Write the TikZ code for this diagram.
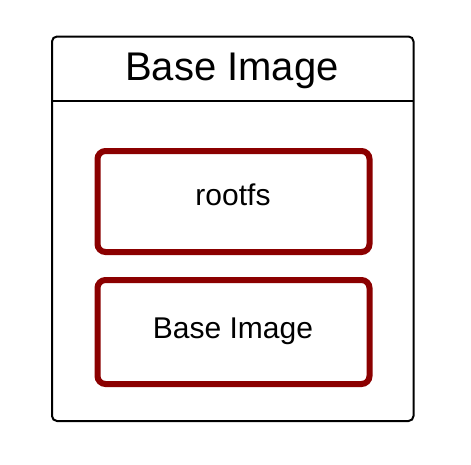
\documentclass[tikz,border=0pt]{standalone}
\usepackage{fontspec}
\setmainfont{Liberation Sans}
\definecolor{boxred}{RGB}{139,0,0}
\begin{document}
\begin{tikzpicture}[x=1pt,y=-1pt,
  outerbox/.style={draw=black,line width=2pt,rounded corners=5pt},
  redbox/.style={draw=boxred,line width=6pt,rounded corners=8pt},
  bigtext/.style={font=\fontsize{40}{48}\selectfont,inner sep=0pt,anchor=base},
  smalltext/.style={font=\fontsize{30}{36}\selectfont,inner sep=0pt,anchor=base}]
\useasboundingbox (0,0) rectangle (471,464);
\draw[outerbox] (52,36.5) rectangle (413.5,421);
\draw[line width=2pt] (52,101) -- (413.5,101);
\node[bigtext] (title) at (232,80.5) {Base Image};
\draw[redbox] (97.5,151) rectangle (369.5,252);
\draw[redbox] (97.5,280) rectangle (369.5,384);
\node[smalltext] (rootfs) at (233,205) {rootfs};
\node[smalltext] (base) at (233,338) {Base Image};
\end{tikzpicture}
\end{document}
